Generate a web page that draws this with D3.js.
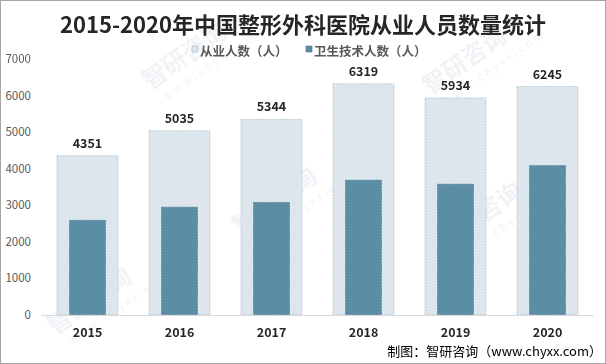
<!DOCTYPE html>
<html>
<head>
<meta charset="utf-8">
<script src="https://cdn.jsdelivr.net/npm/d3@7"></script>
<style>
  html, body { margin: 0; padding: 0; background: #fff; }
  svg { display: block; }
  text { font-family: "Noto Sans CJK SC", "Liberation Sans", sans-serif; }
</style>
</head>
<body>
<svg id="chart" width="606" height="364"></svg>
<script>
const years = ["2015", "2016", "2017", "2018", "2019", "2020"];
const totalStaff = [4351, 5035, 5344, 6319, 5934, 6245];
const techStaff = [2580, 2940, 3070, 3680, 3570, 4080];
const yTicks = [0, 1000, 2000, 3000, 4000, 5000, 6000, 7000];
const seriesNames = ["从业人数（人）", "卫生技术人数（人）"];
const titleText = "2015-2020年中国整形外科医院从业人员数量统计";
const sourceText = "制图：智研咨询（www.chyxx.com）";

const W = 606, H = 364;
const svg = d3.select("#chart");

// frame
svg.append("rect").attr("x", 0.5).attr("y", 0.5).attr("width", W - 1).attr("height", H - 1)
  .attr("fill", "#fff").attr("stroke", "#a6a6a6");

// faint watermarks (kept fully inside the picture)
const wm = svg.append("g").attr("opacity", 0.55);
[[150, 90], [430, 95], [240, 235], [445, 250], [55, 335]].forEach(([x, y]) => {
  const g = wm.append("g").attr("transform", `translate(${x},${y}) rotate(-35)`);
  g.append("text").attr("x", 0).attr("y", 0).attr("font-size", 24).attr("font-weight", "bold")
    .attr("fill", "#e3e8ef").text("智研咨询");
  g.append("text").attr("x", 8).attr("y", 18).attr("font-size", 11).attr("letter-spacing", 3)
    .attr("fill", "#e3e8ef").text("www.chyxx.com");
});

const x = d3.scaleBand().domain(years).range([41.5, 593.5])
  .paddingInner(0.337).paddingOuter(0.1685);
const y = d3.scaleLinear().domain([0, 7000]).range([314.5, 59]);

// title
svg.append("text").attr("x", W / 2).attr("y", 33).attr("text-anchor", "middle")
  .attr("font-size", 22).attr("font-weight", "bold").attr("fill", "#262626")
  .text(titleText);

// legend
const legend = svg.append("g");
const legItems = [
  { name: seriesNames[0], x: 192, fill: "#dde6ec", stroke: "#9fb7c6" },
  { name: seriesNames[1], x: 306, fill: "#5b8ea4", stroke: "#4a7a90" }
];
legItems.forEach(d => {
  legend.append("rect").attr("x", d.x).attr("y", 46).attr("width", 6).attr("height", 6)
    .attr("fill", d.fill).attr("stroke", d.stroke).attr("stroke-width", 0.6);
  legend.append("text").attr("x", d.x + 8).attr("y", 55.5).attr("font-size", 12.5)
    .attr("font-weight", 600).attr("fill", "#595959").text(d.name);
});

// y axis labels
const yAxis = d3.axisLeft(y).tickValues(yTicks).tickSize(0).tickPadding(0).tickFormat(d3.format("d"));
const yg = svg.append("g").attr("transform", "translate(31,0)").call(yAxis);
yg.select(".domain").remove();
yg.selectAll("text").attr("font-size", 11.5).attr("fill", "#595959")
  .attr("font-family", "'Liberation Sans', sans-serif");

// outer bars
svg.append("g").selectAll("rect").data(years).join("rect")
  .attr("x", d => x(d))
  .attr("y", (d, i) => y(totalStaff[i]))
  .attr("width", x.bandwidth())
  .attr("height", (d, i) => y(0) - y(totalStaff[i]))
  .attr("fill", "#dde6ec").attr("stroke", "#b3c7d3").attr("stroke-width", 0.8)
  .attr("stroke-dasharray", "2,1");

// inner bars
const innerW = 36;
svg.append("g").selectAll("rect").data(years).join("rect")
  .attr("x", d => x(d) + x.bandwidth() / 2 - innerW / 2)
  .attr("y", (d, i) => y(techStaff[i]))
  .attr("width", innerW)
  .attr("height", (d, i) => y(0) - y(techStaff[i]))
  .attr("fill", "#5b8ea4").attr("stroke", "#4d7f95").attr("stroke-width", 0.8)
  .attr("stroke-dasharray", "2,1");

// value labels
svg.append("g").selectAll("text").data(years).join("text")
  .attr("x", d => x(d) + x.bandwidth() / 2)
  .attr("y", (d, i) => y(totalStaff[i]) - 8)
  .attr("text-anchor", "middle").attr("font-size", 12.5).attr("font-weight", "bold")
  .attr("fill", "#262626").attr("font-family", "'Liberation Sans', sans-serif")
  .text((d, i) => totalStaff[i]);

// x axis
const xAxis = d3.axisBottom(x).tickSize(0).tickPadding(0);
const xg = svg.append("g").attr("transform", "translate(0,315)").call(xAxis);
xg.select(".domain").attr("stroke", "#d9d9d9").attr("d", "M41.5,0.5H593.5");
xg.selectAll("text").attr("y", 22).attr("dy", 0).attr("font-size", 12.5).attr("font-weight", "bold")
  .attr("fill", "#262626").attr("font-family", "'Liberation Sans', sans-serif");

// source
svg.append("text").attr("x", 602).attr("y", 356).attr("text-anchor", "end")
  .attr("font-size", 13).attr("fill", "#000").text(sourceText);
</script>
</body>
</html>
